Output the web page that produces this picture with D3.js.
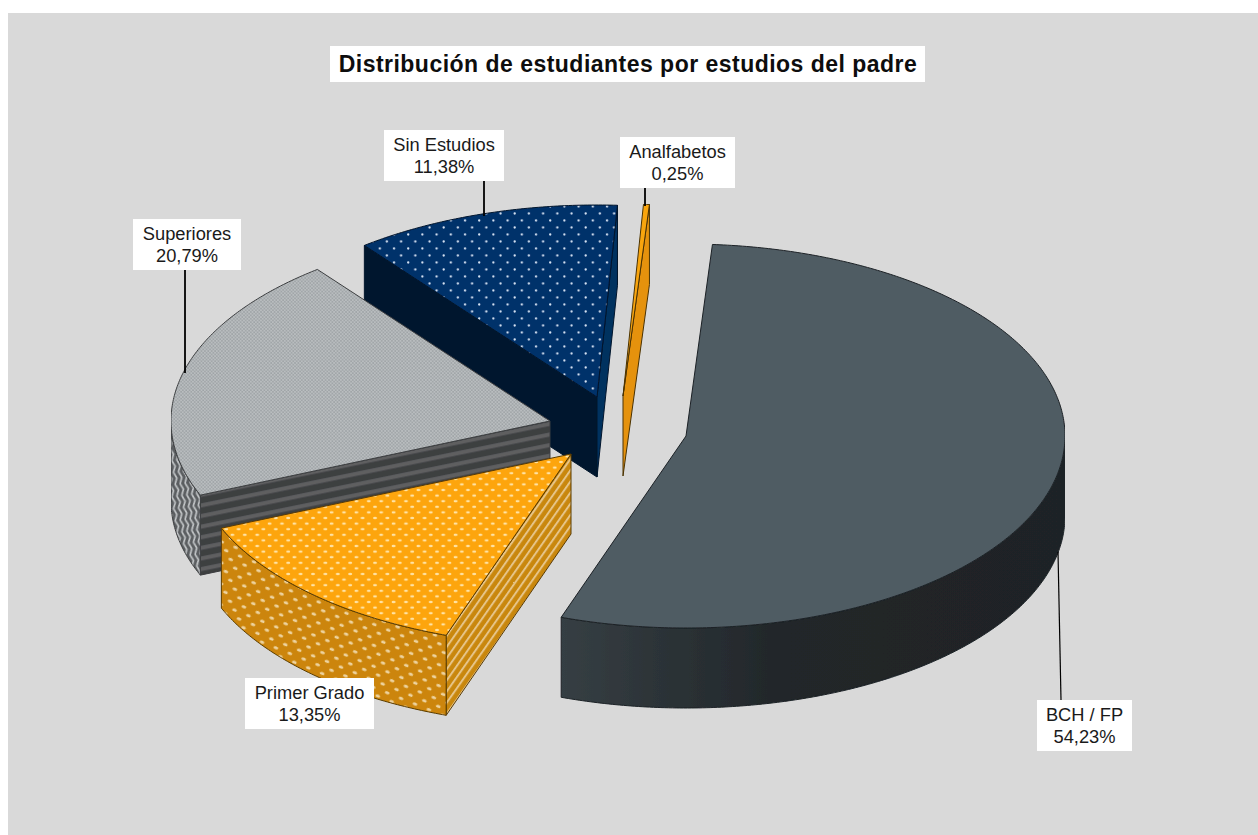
<!DOCTYPE html>
<html lang="es">
<head>
<meta charset="utf-8">
<title>Distribución de estudiantes por estudios del padre</title>
<script src="https://cdn.jsdelivr.net/npm/d3@7/dist/d3.min.js"></script>
<style>
html,body{margin:0;padding:0;background:#fff;}
svg{display:block;font-family:"Liberation Sans",Arial,sans-serif;}
</style>
</head>
<body>
<svg id="chart" width="1258" height="835"></svg>
<script>
// ---- data ----
const chartTitle = "Distribución de estudiantes por estudios del padre";
const categories = ["BCH / FP", "Primer Grado", "Superiores", "Sin Estudios", "Analfabetos"];
const shares = [54.23, 13.35, 20.79, 11.38, 0.25];

// ---- layout (one entry per category) ----
const apexX = [686, 571, 550, 597, 623];
const apexY = [436, 454, 421, 397, 396];
const labelBoxes = [
  {x:1037,y:700,w:95,h:51},
  {x:245,y:678,w:129,h:51},
  {x:133,y:219,w:108,h:51},
  {x:384,y:130,w:120,h:51},
  {x:620,y:137,w:115,h:51}
];
const leaders = [
  [[1058,552],[1061,700]],
  null,
  [[185,270],[185,373]],
  [[484,181],[484,216]],
  [[645,188],[645,206]]
];
const topFill  = ["#505b63","url(#pTopPrimer)","url(#pTopSup)","url(#pTopSin)","#f9a50e"];
const rimFill  = ["url(#gRimBch)","url(#pRimPrimer)","url(#pRimSup)","#012a55","#e28f0c"];
const startFill= ["#2e363b","url(#pFacePrimer)","url(#pFaceSup)","#01162f","#c47c08"];
const endFill  = ["#2e363b","#b87808","#3e4042","#03305f","#e5920c"];
const edgeCol  = ["#1c2226","#5a3c05","#3c3e40","#02152c","#4a3206"];
const paintOrder = [3,4,2,1,0];

const rx = 379, ry = 192, depth = 80;
const firstAngle = 4.0 * Math.PI / 180;

const svg = d3.select("#chart");
const defs = svg.append("defs");

// ---- patterns ----
function pattern(id,w,h,bg,tf){
  const p = defs.append("pattern").attr("id",id).attr("patternUnits","userSpaceOnUse")
    .attr("width",w).attr("height",h);
  if(tf) p.attr("patternTransform",tf);
  p.append("rect").attr("width",w).attr("height",h).attr("fill",bg);
  return p;
}
function dots(p,list,rxd,ryd,col){
  list.forEach(d=>p.append("ellipse").attr("cx",d[0]).attr("cy",d[1]).attr("rx",rxd).attr("ry",ryd).attr("fill",col));
}
dots(pattern("pTopSin",14.2,14,"#03316a"),[[3.5,3.5],[10.6,10.5]],1.15,1.15,"#d5e3f2");
dots(pattern("pTopPrimer",12.4,11.2,"#fda50c"),[[3,2.8],[9.2,8.4]],2,1.25,"#ffe3a6");
dots(pattern("pRimPrimer",15,13,"#cc8508","rotate(22)"),[[3.5,3.2],[11,9.7]],2.5,1.5,"#eed3a0");
dots(pattern("pTopSup",3.4,3.4,"#b9bdbf"),[[0.9,0.9],[2.6,2.6]],0.85,0.85,"#9a9fa2");
{
  const p = pattern("pFacePrimer",6.4,6.4,"#c9870c","rotate(-55)");
  p.append("rect").attr("y",0).attr("width",6.4).attr("height",2).attr("fill","#e6c488");
}
{
  const p = pattern("pFaceSup",10,10.4,"#3d3f41","rotate(-11.5)");
  p.append("rect").attr("y",3).attr("width",10).attr("height",4).attr("fill","#5e5f61");
}
{
  const p = pattern("pRimSup",5,12,"#5a5d60","rotate(-8)");
  p.append("path").attr("d","M1,0L3.6,6L1,12").attr("fill","none").attr("stroke","#c4c7c9").attr("stroke-width",1.7);
}
const gr = defs.append("linearGradient").attr("id","gRimBch").attr("gradientUnits","userSpaceOnUse")
  .attr("x1",560).attr("x2",1065).attr("y1",0).attr("y2",0);
[[0,"#363f44"],[0.2,"#2c3337"],[0.45,"#212629"],[1,"#1f2326"]].forEach(s=>
  gr.append("stop").attr("offset",s[0]).attr("stop-color",s[1]));
defs.append("filter").attr("id","soft").attr("x",0).attr("y",0).attr("width",1).attr("height",1)
  .append("feGaussianBlur").attr("stdDeviation",0.45);

// ---- background ----
svg.append("rect").attr("x",8).attr("y",13).attr("width",1250).attr("height",822).attr("fill","#d9d9d9");

// ---- pie geometry through d3.pie ----
const pie = d3.pie().sort(null).value(d=>d).startAngle(firstAngle).endAngle(firstAngle + 2*Math.PI);
const arcs = pie(shares);
const line = d3.line();
const pt = (i,a,dy=0)=>[apexX[i] + rx*Math.sin(a), apexY[i] - ry*Math.cos(a) + dy];
const samples = (a0,a1)=>{
  const n = Math.max(2, Math.ceil(Math.abs(a1-a0)/0.01));
  return d3.range(n+1).map(k=>a0 + (a1-a0)*k/n);
};
const HALF = Math.PI;

function quad(i,a){
  return line([[apexX[i],apexY[i]], pt(i,a), pt(i,a,depth), [apexX[i],apexY[i]+depth]]) + "Z";
}

const g = svg.append("g").attr("filter","url(#soft)");
paintOrder.forEach(i=>{
  const a = arcs[i], s = g.append("g").attr("class","slice").attr("data-name",categories[i]);
  // cut faces: only those turned to the viewer
  if(Math.sin(a.startAngle) < 0)
    s.append("path").attr("d",quad(i,a.startAngle)).attr("fill",startFill[i]).attr("stroke",edgeCol[i]).attr("stroke-width",1);
  if(Math.sin(a.endAngle) > 0)
    s.append("path").attr("d",quad(i,a.endAngle)).attr("fill",endFill[i]).attr("stroke",edgeCol[i]).attr("stroke-width",1);
  // outer rim: the front half of the ellipse
  const r0 = Math.max(a.startAngle, HALF/2), r1 = Math.min(a.endAngle, 3*HALF/2);
  if(r1 > r0){
    const ss = samples(r0,r1);
    const d = ss.map(t=>pt(i,t)).concat(ss.slice().reverse().map(t=>pt(i,t,depth)));
    s.append("path").attr("d",line(d)+"Z").attr("fill",rimFill[i]).attr("stroke",edgeCol[i]).attr("stroke-width",1);
  }
  // top
  const top = [[apexX[i],apexY[i]]].concat(samples(a.startAngle,a.endAngle).map(t=>pt(i,t)));
  s.append("path").attr("d",line(top)+"Z").attr("fill",topFill[i]).attr("stroke",edgeCol[i]).attr("stroke-width",1).attr("stroke-linejoin","round");
});

// ---- leaders ----
leaders.forEach((l,i)=>{
  if(!l) return;
  svg.append("line").attr("x1",l[0][0]).attr("y1",l[0][1]).attr("x2",l[1][0]).attr("y2",l[1][1])
    .attr("stroke","#000").attr("stroke-width",i===0?1.2:1.8);
});

// ---- labels ----
const fmt = v=>v.toFixed(2).replace(".",",") + "%";
categories.forEach((c,i)=>{
  const b = labelBoxes[i];
  svg.append("rect").attr("x",b.x).attr("y",b.y).attr("width",b.w).attr("height",b.h).attr("fill","#fff");
  const t = svg.append("text").attr("text-anchor","middle").attr("font-size",18.3).attr("fill","#1a1a1a");
  t.append("tspan").attr("x",b.x+b.w/2).attr("y",b.y+21).text(c);
  t.append("tspan").attr("x",b.x+b.w/2).attr("y",b.y+43).text(fmt(shares[i]));
});

// ---- title ----
svg.append("rect").attr("x",330).attr("y",46).attr("width",595).attr("height",36).attr("fill","#fff");
svg.append("text").attr("x",628).attr("y",72).attr("text-anchor","middle")
  .attr("font-size",23).attr("letter-spacing",0.48).attr("font-weight","bold").attr("fill","#0d0d0d").text(chartTitle);
</script>
</body>
</html>
